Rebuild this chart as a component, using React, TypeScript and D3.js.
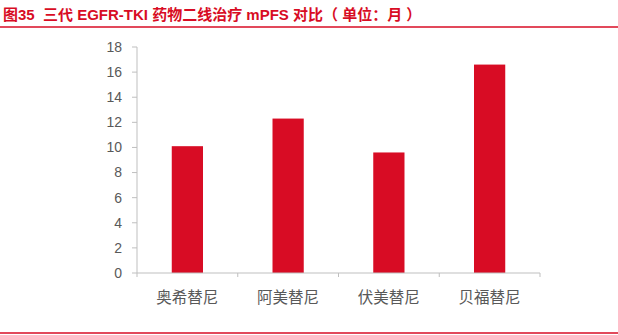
import React from "react";
import * as d3 from "d3";

const categories = ["奥希替尼", "阿美替尼", "伏美替尼", "贝福替尼"];
const values = [10.1, 12.3, 9.6, 16.6];
const yTicks = [0, 2, 4, 6, 8, 10, 12, 14, 16, 18];
const title = "图35  三代 EGFR-TKI 药物二线治疗 mPFS 对比（ 单位：月 ）";

const W = 618;
const H = 335;
const RED = "#D80C24";
const AXIS = "#BFBFBF";
const TEXT = "#595959";
const FONT = "'Liberation Sans', Arial, 'Noto Sans CJK SC', sans-serif";

export default function App() {
  const x = d3.scaleBand<string>().domain(categories).range([137, 540]).paddingInner(0.69).paddingOuter(0.345);
  const xb = d3.scaleBand<string>().domain(categories).range([137, 540]);
  const y = d3.scaleLinear().domain([0, 18]).range([273, 47]);
  return (
    <svg width={W} height={H} style={{ position: "absolute", left: 0, top: 0, background: "#fff" }}>
      <text x={3} y={20} fill={RED} fontFamily={FONT} fontWeight="bold" fontSize={15} style={{ whiteSpace: "pre" }}>{title}</text>
      <line x1={0} x2={W} y1={27} y2={27} stroke={RED} strokeWidth={1.5} />
      <line x1={0} x2={W} y1={333} y2={333} stroke={RED} strokeWidth={1.5} />
      {values.map((v, i) => (
        <rect key={i} x={x(categories[i])} y={y(v)} width={x.bandwidth()} height={y(0) - y(v)} fill={RED} />
      ))}
      <line x1={137} x2={137} y1={y(18)} y2={y(0)} stroke={AXIS} strokeWidth={1} />
      {yTicks.map((t) => (
        <g key={t}>
          <line x1={132} x2={137} y1={y(t)} y2={y(t)} stroke={AXIS} />
          <text x={122} y={y(t)} dy="0.35em" textAnchor="end" fill={TEXT} fontFamily={FONT} fontSize={14}>{t}</text>
        </g>
      ))}
      <line x1={137} x2={540} y1={y(0)} y2={y(0)} stroke={AXIS} strokeWidth={1} />
      {[...categories.map((c) => xb(c) as number), 540].map((px, i) => (
        <line key={i} x1={px} x2={px} y1={y(0)} y2={y(0) + 4} stroke={AXIS} />
      ))}
      {categories.map((c) => (
        <text key={c} x={(xb(c) as number) + xb.bandwidth() / 2} y={303} textAnchor="middle" fill={TEXT} fontFamily={FONT} fontSize={15.5}>{c}</text>
      ))}
    </svg>
  );
}
